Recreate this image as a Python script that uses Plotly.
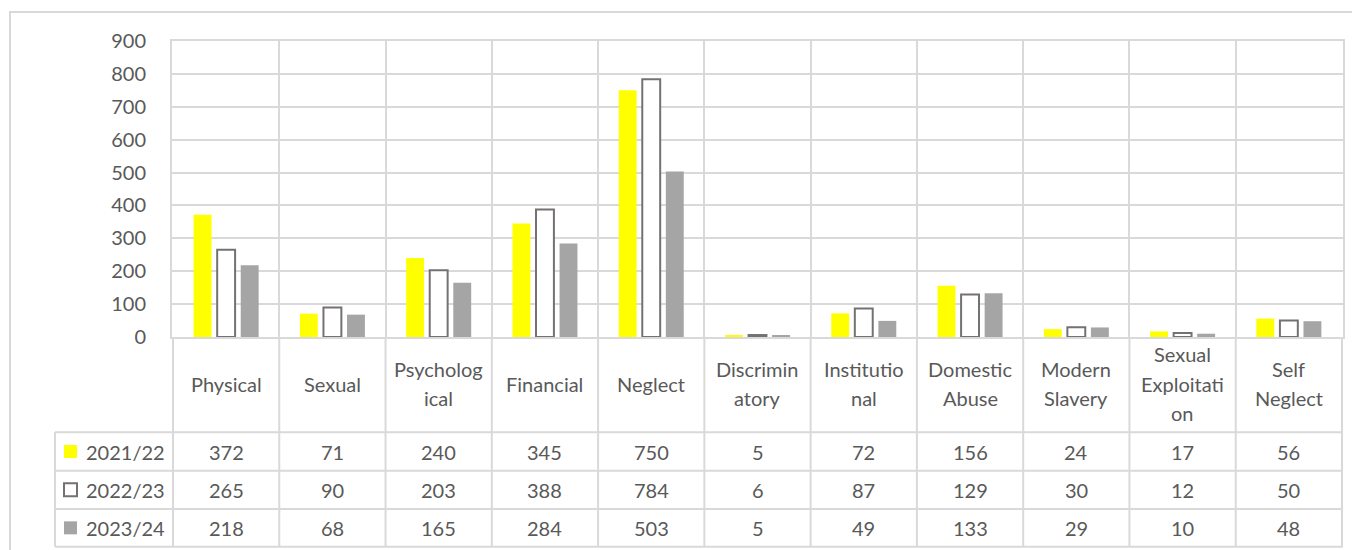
import plotly.graph_objects as go

categories = ["Physical", "Sexual", "Psychological", "Financial", "Neglect", "Discriminatory",
              "Institutional", "Domestic Abuse", "Modern Slavery", "Sexual Exploitation", "Self Neglect"]
header_labels = ["Physical", "Sexual", "Psycholog<br>ical", "Financial", "Neglect", "Discrimin<br>atory",
                 "Institutio<br>nal", "Domestic<br>Abuse", "Modern<br>Slavery", "Sexual<br>Exploitati<br>on",
                 "Self<br>Neglect"]
series_names = ["2021/22", "2022/23", "2023/24"]
v2122 = [372, 71, 240, 345, 750, 5, 72, 156, 24, 17, 56]
v2223 = [265, 90, 203, 388, 784, 6, 87, 129, 30, 12, 50]
v2324 = [218, 68, 165, 284, 503, 5, 49, 133, 29, 10, 48]
y_ticks = [0, 100, 200, 300, 400, 500, 600, 700, 800, 900]

OFF = 8  # page body margin
W, H = 1360 - OFF, 550 - OFF
ML, MT = 172 - OFF, 41 - OFF
MR = W - (1343 - OFF)
MB = H - (337 - OFF)
PW = W - ML - MR
PH = H - MT - MB
FONT = "Lato, 'Open Sans', sans-serif"
TXT = "#595959"
GRID = "#D9D9D9"
FS = 20
LINE_H = 29.5


def py(px):  # screen pixel y -> paper y
    return (H - MB - (px - OFF)) / PH


def pxx(px):  # screen pixel x -> paper x
    return ((px - OFF) - ML) / PW


series_vals = [v2122, v2223, v2324]
styles = [
    dict(color="#FFFF00", line=dict(width=0)),
    dict(color="#FFFFFF", line=dict(color="#767171", width=2)),
    dict(color="#A5A5A5", line=dict(width=0)),
]

fig = go.Figure()
for name, vals, st in zip(series_names, series_vals, styles):
    fig.add_trace(go.Bar(x=categories, y=vals, name=name, marker=st, hoverinfo="skip"))

fig.update_layout(
    width=W, height=H,
    margin=dict(l=ML, r=MR, t=MT, b=MB),
    paper_bgcolor="white", plot_bgcolor="white",
    barmode="group", bargap=0.335, bargroupgap=0.24,
    showlegend=False,
    font=dict(family=FONT, color=TXT, size=FS),
)
fig.update_xaxes(type="category", showticklabels=False, showgrid=True, gridcolor=GRID, gridwidth=2,
                 tickson="boundaries", ticks="", showline=True, mirror=True, linecolor=GRID, linewidth=2,
                 zeroline=False)
fig.update_yaxes(range=[0, 900], tickvals=y_ticks, showgrid=True, gridcolor=GRID, gridwidth=2,
                 showline=True, mirror=True, linecolor=GRID, linewidth=2, zeroline=False,
                 ticks="", ticklabelstandoff=20, tickfont=dict(size=FS, color=TXT, family=FONT))

# table geometry (screen pixels)
plot_bottom = 337
header_bottom = 432.3
row_bounds = [432.3, 470.7, 509.0, 546.7]
legend_left = 55

shapes = []
# outer chart border
shapes.append(dict(type="rect", xref="paper", yref="paper", x0=pxx(10), x1=pxx(1375), y0=py(565), y1=py(12),
                   line=dict(color=GRID, width=2), fillcolor="rgba(0,0,0,0)", layer="below"))
# vertical table lines at category boundaries
for i in range(len(categories) + 1):
    shapes.append(dict(type="line", xref="x", yref="paper", x0=i - 0.5, x1=i - 0.5,
                       y0=py(row_bounds[-1]), y1=0, line=dict(color=GRID, width=2)))
# legend column left line
shapes.append(dict(type="line", xref="paper", yref="paper", x0=pxx(legend_left), x1=pxx(legend_left),
                   y0=py(row_bounds[-1]), y1=py(row_bounds[0]), line=dict(color=GRID, width=2)))
# horizontal table lines
for yb in row_bounds:
    shapes.append(dict(type="line", xref="paper", yref="paper", x0=pxx(legend_left), x1=1,
                       y0=py(yb), y1=py(yb), line=dict(color=GRID, width=2)))

annotations = []
# header labels (one annotation per line for Excel-like line spacing)
hc = (plot_bottom + header_bottom) / 2 - 1
for cat, lab in zip(categories, header_labels):
    lines = lab.split("<br>")
    n = len(lines)
    for k, ln in enumerate(lines):
        yc = hc + (k - (n - 1) / 2) * LINE_H
        annotations.append(dict(x=cat, xref="x", y=py(yc), yref="paper",
                                text=ln, showarrow=False, xanchor="center", yanchor="middle",
                                font=dict(size=FS, color=TXT, family=FONT)))
# value rows and legend keys
for r, (name, vals, st) in enumerate(zip(series_names, series_vals, styles)):
    yc = (row_bounds[r] + row_bounds[r + 1]) / 2
    for cat, v in zip(categories, vals):
        annotations.append(dict(x=cat, xref="x", y=py(yc), yref="paper", text=str(v), showarrow=False,
                                xanchor="center", yanchor="middle", font=dict(size=FS, color=TXT, family=FONT)))
    annotations.append(dict(x=pxx(167), xref="paper", y=py(yc), yref="paper", text=name, showarrow=False,
                            xanchor="right", yanchor="middle", font=dict(size=FS, color=TXT, family=FONT)))
    lw = st["line"].get("width", 0)
    lc = st["line"].get("color", st["color"])
    shapes.append(dict(type="rect", xref="paper", yref="paper", x0=pxx(64), x1=pxx(77),
                       y0=py(yc + 6.5), y1=py(yc - 6.5), fillcolor=st["color"],
                       line=dict(color=lc if lw else st["color"], width=2 if lw else 0)))

fig.update_layout(shapes=shapes, annotations=annotations)
fig.write_html("out.html")
